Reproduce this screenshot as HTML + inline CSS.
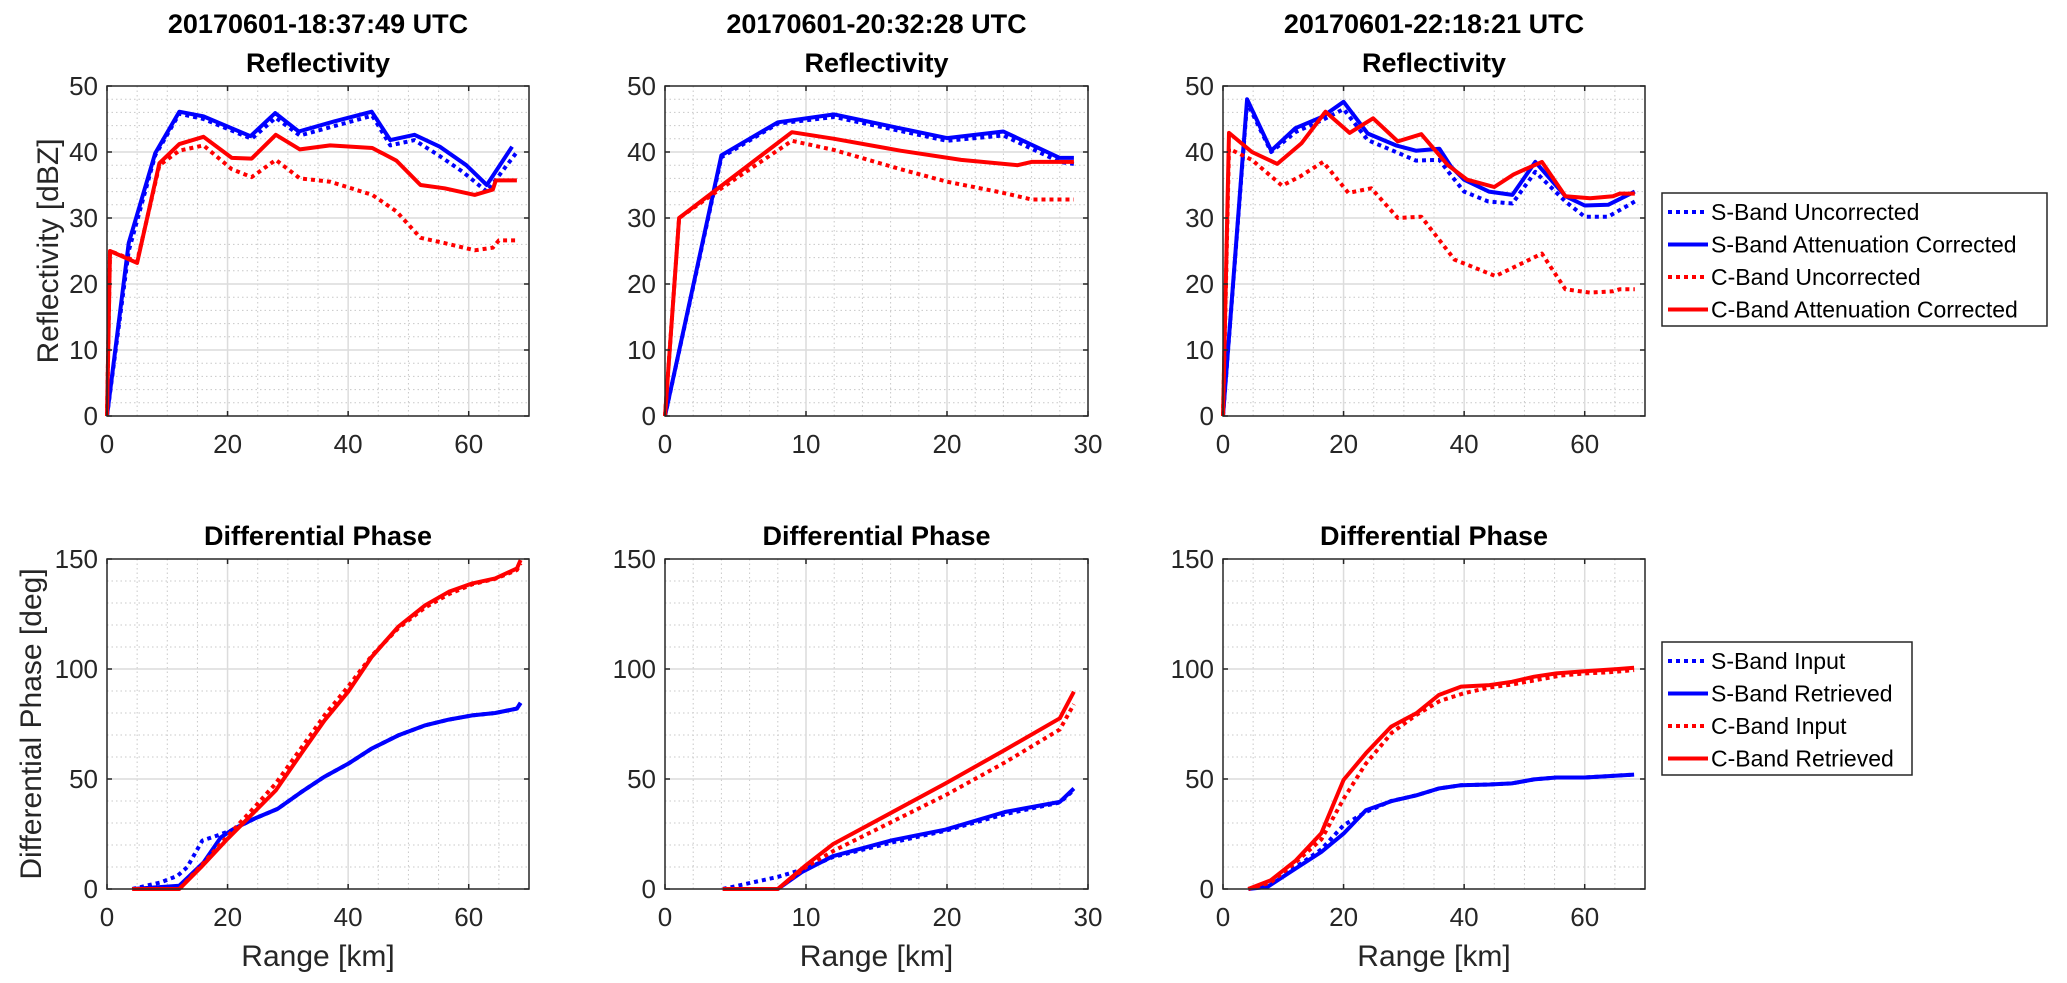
<!DOCTYPE html>
<html><head><meta charset="utf-8"><style>
html,body{margin:0;padding:0;background:#fff;}
svg{display:block;font-family:"Liberation Sans",Arial,sans-serif;}
</style></head><body>
<svg id="fig" width="2067" height="983" viewBox="0 0 2067 983" xmlns="http://www.w3.org/2000/svg"></svg>
<script>
// ---- Top-left reflectivity (18:37:49) ----
const tl_sUnc_x=[0,3.6,8,12,16,24,28,32,38,44,47,51,55,59,63,68];
const tl_sUnc_y=[0,25,39.5,45.8,45,42,45.2,42.5,44,45.5,41,41.8,39.5,37,34,40];
const tl_sCor_x=[0,3.6,8,12,16,23.8,27.9,31.8,37.6,43.9,47,51,55.2,59.6,63,67.2];
const tl_sCor_y=[0,26.2,39.8,46.1,45.4,42.4,45.9,43.1,44.6,46.1,41.8,42.6,40.8,38,35,40.8];
const tl_cUnc_x=[0,0.5,5,8.7,12,16,20.7,24,28,32,37,44,48,52,56,61,64,65,68];
const tl_cUnc_y=[0,25,23.4,38,40.2,41,37.4,36.2,38.8,36,35.5,33.5,31,27,26.2,25.1,25.5,26.6,26.6];
const tl_cCor_x=[0,0.5,5,8.7,12,16,20.7,24,28,32,37,44,48,52,56,61,64,64.5,68];
const tl_cCor_y=[0,25,23.2,38.3,41.2,42.3,39.1,39,42.6,40.4,41,40.6,38.7,35,34.5,33.5,34.3,35.7,35.7];
// ---- Top-middle (20:32:28) ----
const tm_sUnc_x=[0,4,8,12,16,20,24,28,29];
const tm_sUnc_y=[0,39.2,44.3,45.3,43.5,41.7,42.5,38.5,38.2];
const tm_sCor_x=[0,4,8,12,16,20,24,28,29];
const tm_sCor_y=[0,39.5,44.5,45.7,43.9,42.1,43.1,39.1,39.1];
const tm_cUnc_x=[0,1,4,9,12,16.7,20,24,26,29];
const tm_cUnc_y=[0,30,34.5,41.7,40.3,37.4,35.5,33.8,32.8,32.8];
const tm_cCor_x=[0,1,9,12,16.7,21,25,26,29];
const tm_cCor_y=[0,30,43,42,40.2,38.8,38,38.5,38.5];
// ---- Top-right (22:18:21) ----
const tr_sUnc_x=[0,4,8,12,16.4,20,24,28.7,32,35.9,37.8,40,44,48,51.8,56.8,60,63.9,68.3];
const tr_sUnc_y=[0,47.5,40,43,44.8,46.5,41.8,40,38.7,38.8,36.5,34,32.5,32.2,37,32.5,30.2,30.2,32.5];
const tr_sCor_x=[0,4,8,12,16.4,20,24,28.7,32,35.9,37.8,40,44.1,48,51.8,56.8,60,63.9,68.3];
const tr_sCor_y=[0,48,40.2,43.6,45.3,47.6,42.8,41,40.2,40.5,37.8,35.8,34,33.5,38.5,33.3,31.9,32,34];
const tr_cUnc_x=[0,1,4.8,9.8,12.8,16.6,20.8,24.6,29,32.9,38.4,45.2,52.9,56.8,60.9,64.7,65.8,68.3];
const tr_cUnc_y=[0,40.5,38.8,34.9,36.3,38.5,33.8,34.5,30,30.2,23.7,21.2,24.6,19.2,18.7,18.9,19.2,19.2];
const tr_cCor_x=[0,1,4.8,9,13,17,21,24.9,29,32.9,37.3,40.5,45,48.2,52.9,56.8,60.9,64.7,65.8,68.3];
const tr_cCor_y=[0,42.9,40,38.2,41.3,46.1,42.9,45.1,41.6,42.7,38,35.8,34.7,36.6,38.5,33.3,33,33.3,33.7,33.7];
// ---- Bottom-left phase ----
const bl_sIn_x=[4.2,8.9,11.7,13.3,15.8,18.3,20.6,24.4,28.3,32.2,36,40,43.9,48.3,52.8,56.7,60.6,64.4,68,68.6];
const bl_sIn_y=[0,3,6,9.9,22,24.3,26.6,31.9,36.4,44,50.9,56.9,63.8,69.8,74.4,77,78.9,80,82,84.6];
const bl_sRet_x=[4.2,12,16,18.9,21,24.4,28.3,32.2,36,40,43.9,48.3,52.8,56.7,60.6,64.4,68,68.6];
const bl_sRet_y=[0,1.5,12,23.5,27.3,31.9,36.4,44,50.9,56.9,63.8,69.8,74.4,77,78.9,80,82,84.6];
const bl_cIn_x=[4.2,12,15.6,20,24.4,28,32.2,36.1,40,43.9,48.3,52.8,56.7,60.6,64.4,68,68.6];
const bl_cIn_y=[0,0,10.5,24,37,48,64,79,92,106,118.5,128,134,138.5,141,145,148];
const bl_cRet_x=[4.2,12,15.6,20,24.4,28,32.2,36.1,40,43.9,48.3,52.8,56.7,60.6,64.4,68,68.6];
const bl_cRet_y=[0,0,9.9,22.8,34.9,44.8,61.5,76.7,89.6,105.5,119.2,129,135.1,138.9,141.2,145.7,149.5];
// ---- Bottom-middle phase ----
const bm_sIn_x=[4.1,8,10,11.9,16,19.9,24.1,28,29];
const bm_sIn_y=[0,5.5,9.3,14.5,21,26.5,34,39.3,45];
const bm_sRet_x=[4.1,8,9.7,11.9,16,19.9,24.1,28,29];
const bm_sRet_y=[0,0,7.7,14.9,22,27,35,39.6,45.7];
const bm_cIn_x=[4.1,8,10,12,20,24.1,28,29];
const bm_cIn_y=[0,0,10,17.5,43,57.5,72.5,84];
const bm_cRet_x=[4.1,8,10,11.9,19.9,24.1,28,29];
const bm_cRet_y=[0,0,10.8,20.3,48,63.2,77.6,89.7];
// ---- Bottom-right phase ----
const br_sIn_x=[4.2,7.4,11.6,16.3,20,23.7,27.9,32.1,35.8,39.5,44.2,47.9,51.6,55.3,60,68.2];
const br_sIn_y=[0,2,9,18,29,35,40,42.6,45.7,47.2,47.5,48,49.8,50.7,50.7,52];
const br_sRet_x=[4.2,7.4,11.6,16.3,20,23.7,27.9,32.1,35.8,39.5,44.2,47.9,51.6,55.3,60,68.2];
const br_sRet_y=[0,1,8.5,16.8,25.2,35.8,39.9,42.6,45.7,47.2,47.5,48,49.8,50.7,50.7,52];
const br_cIn_x=[4.2,7.9,12,16.3,20,23.7,28,32,36,40,44,48,52,56,60,64,68.2];
const br_cIn_y=[0,3,12,22.5,41,57,71,79,85.5,89,91.5,93,95,97,98,98.5,99.5];
const br_cRet_x=[4.2,7.9,12.1,16.3,20,23.7,27.9,32.1,35.8,39.5,44.2,47.9,51.6,55.3,60,65.6,68.2];
const br_cRet_y=[0,3.9,13,25.3,49.6,61.7,73.8,79.9,88.2,92,92.7,94.2,96.5,98,99,100,100.6];

const xTicks70=[0,20,40,60];
const xTicks30=[0,10,20,30];
const yTicksZ=[0,10,20,30,40,50];
const yTicksP=[0,50,100,150];
const titles=["20170601-18:37:49 UTC","20170601-20:32:28 UTC","20170601-22:18:21 UTC"];
const legTop=["S-Band Uncorrected","S-Band Attenuation Corrected","C-Band Uncorrected","C-Band Attenuation Corrected"];
const legBot=["S-Band Input","S-Band Retrieved","C-Band Input","C-Band Retrieved"];

const NS="http://www.w3.org/2000/svg";
const svg=document.getElementById('fig');
function mk(tag,attrs,parent){const e=document.createElementNS(NS,tag);for(const k in attrs)e.setAttribute(k,attrs[k]);(parent||svg).appendChild(e);return e;}
function txt(s,attrs,parent){const e=mk('text',attrs,parent);e.textContent=s;return e;}

const cols=[{l:107,r:529,xmax:70,ticks:xTicks70,minor:5},{l:665,r:1088,xmax:30,ticks:xTicks30,minor:2},{l:1223,r:1645,xmax:70,ticks:xTicks70,minor:5}];
const rows=[{t:86,b:416,ymax:50,ticks:yTicksZ,minor:2},{t:559,b:889,ymax:150,ticks:yTicksP,minor:10}];
const BLUE="#0000ff",RED="#ff0000";

function axes(ci,ri,series,name){
  const c=cols[ci],r=rows[ri];
  const g=mk('g',{});
  
  
  const sx=v=>c.l+(v/c.xmax)*(c.r-c.l);
  const sy=v=>r.b-(v/r.ymax)*(r.b-r.t);
  for(let v=c.minor;v<c.xmax;v+=c.minor){if(v%(c.ticks[1])===0)continue;mk('line',{x1:sx(v),x2:sx(v),y1:r.t,y2:r.b,stroke:'#c8c8c8','stroke-width':1,'stroke-dasharray':'1.5 3'},g);}
  for(let v=r.minor;v<r.ymax;v+=r.minor){if(v%(r.ticks[1])===0)continue;mk('line',{x1:c.l,x2:c.r,y1:sy(v),y2:sy(v),stroke:'#c8c8c8','stroke-width':1,'stroke-dasharray':'1.5 3'},g);}
  c.ticks.forEach(v=>{if(v>0&&v<c.xmax)mk('line',{x1:sx(v),x2:sx(v),y1:r.t,y2:r.b,stroke:'#dcdcdc','stroke-width':1.5},g);});
  r.ticks.forEach(v=>{if(v>0&&v<r.ymax)mk('line',{x1:c.l,x2:c.r,y1:sy(v),y2:sy(v),stroke:'#dcdcdc','stroke-width':1.5},g);});
  series.forEach(s=>{
    const pts=s.x.map((xv,i)=>sx(xv).toFixed(1)+','+sy(s.y[i]).toFixed(1)).join(' ');
    const p=mk('polyline',{points:pts,fill:'none',stroke:s.c,'stroke-width':4,'stroke-linejoin':'round','stroke-dasharray':s.d?'4 4':'none'},g);
    
    
  });
  mk('rect',{x:c.l,y:r.t,width:c.r-c.l,height:r.b-r.t,fill:'none',stroke:'#262626','stroke-width':1.5},g);
  c.ticks.forEach(v=>{
    mk('line',{x1:sx(v),x2:sx(v),y1:r.b,y2:r.b-5,stroke:'#262626','stroke-width':1.5},g);
    mk('line',{x1:sx(v),x2:sx(v),y1:r.t,y2:r.t+5,stroke:'#262626','stroke-width':1.5},g);
    const t=txt(String(v),{x:sx(v),y:r.b+37,'text-anchor':'middle','font-size':26,fill:'#262626'},g);
    
    
  });
  r.ticks.forEach(v=>{
    mk('line',{x1:c.l,x2:c.l+5,y1:sy(v),y2:sy(v),stroke:'#262626','stroke-width':1.5},g);
    mk('line',{x1:c.r,x2:c.r-5,y1:sy(v),y2:sy(v),stroke:'#262626','stroke-width':1.5},g);
    const t=txt(String(v),{x:c.l-9,y:sy(v)+9,'text-anchor':'end','font-size':26,fill:'#262626'},g);
    
    
  });
}

const S=(x,y,c,d,n)=>({x,y,c,d,n});
axes(0,0,[S(tl_sUnc_x,tl_sUnc_y,BLUE,1,'s-band-uncorrected-line'),S(tl_sCor_x,tl_sCor_y,BLUE,0,'s-band-corrected-line'),S(tl_cUnc_x,tl_cUnc_y,RED,1,'c-band-uncorrected-line'),S(tl_cCor_x,tl_cCor_y,RED,0,'c-band-corrected-line')],'reflectivity-plot-1');
axes(1,0,[S(tm_sUnc_x,tm_sUnc_y,BLUE,1,'s-band-uncorrected-line'),S(tm_sCor_x,tm_sCor_y,BLUE,0,'s-band-corrected-line'),S(tm_cUnc_x,tm_cUnc_y,RED,1,'c-band-uncorrected-line'),S(tm_cCor_x,tm_cCor_y,RED,0,'c-band-corrected-line')],'reflectivity-plot-2');
axes(2,0,[S(tr_sUnc_x,tr_sUnc_y,BLUE,1,'s-band-uncorrected-line'),S(tr_sCor_x,tr_sCor_y,BLUE,0,'s-band-corrected-line'),S(tr_cUnc_x,tr_cUnc_y,RED,1,'c-band-uncorrected-line'),S(tr_cCor_x,tr_cCor_y,RED,0,'c-band-corrected-line')],'reflectivity-plot-3');
axes(0,1,[S(bl_sIn_x,bl_sIn_y,BLUE,1,'s-band-input-line'),S(bl_sRet_x,bl_sRet_y,BLUE,0,'s-band-retrieved-line'),S(bl_cIn_x,bl_cIn_y,RED,1,'c-band-input-line'),S(bl_cRet_x,bl_cRet_y,RED,0,'c-band-retrieved-line')],'phase-plot-1');
axes(1,1,[S(bm_sIn_x,bm_sIn_y,BLUE,1,'s-band-input-line'),S(bm_sRet_x,bm_sRet_y,BLUE,0,'s-band-retrieved-line'),S(bm_cIn_x,bm_cIn_y,RED,1,'c-band-input-line'),S(bm_cRet_x,bm_cRet_y,RED,0,'c-band-retrieved-line')],'phase-plot-2');
axes(2,1,[S(br_sIn_x,br_sIn_y,BLUE,1,'s-band-input-line'),S(br_sRet_x,br_sRet_y,BLUE,0,'s-band-retrieved-line'),S(br_cIn_x,br_cIn_y,RED,1,'c-band-input-line'),S(br_cRet_x,br_cRet_y,RED,0,'c-band-retrieved-line')],'phase-plot-3');

cols.forEach((c,i)=>{
  const cx=(c.l+c.r)/2;
  let t=txt(titles[i],{x:cx,y:33,'text-anchor':'middle','font-size':27,'font-weight':'bold',fill:'#000'});
  
  
  t=txt('Reflectivity',{x:cx,y:72,'text-anchor':'middle','font-size':27,'font-weight':'bold',fill:'#000'});
  
  
  t=txt('Differential Phase',{x:cx,y:545,'text-anchor':'middle','font-size':27,'font-weight':'bold',fill:'#000'});
  
  
  t=txt('Range [km]',{x:cx,y:966,'text-anchor':'middle','font-size':30,fill:'#262626'});
  
  
});
let yl=txt('Reflectivity [dBZ]',{x:0,y:0,'text-anchor':'middle','font-size':30,fill:'#262626',transform:'translate(58,251) rotate(-90)'});


yl=txt('Differential Phase [deg]',{x:0,y:0,'text-anchor':'middle','font-size':30,fill:'#262626',transform:'translate(41,724) rotate(-90)'});



function legend(x,y,w,h,labels,name){
  const g=mk('g',{});
  
  
  mk('rect',{x,y,width:w,height:h,fill:'#fff',stroke:'#262626','stroke-width':1.5},g);
  const cs=[BLUE,BLUE,RED,RED],ds=[1,0,1,0];
  labels.forEach((s,i)=>{
    const cy=y+19+i*32.5;
    const e=mk('g',{},g);
    
    
    mk('line',{x1:x+6,x2:x+46,y1:cy,y2:cy,stroke:cs[i],'stroke-width':4,'stroke-dasharray':ds[i]?'4 4':'none'},e);
    txt(s,{x:x+49,y:cy+8,'font-size':23,fill:'#000'},e);
  });
}
legend(1662,193,385,133,legTop,'legend-reflectivity');
legend(1662,642,250,133,legBot,'legend-phase');
</script>
</body></html>
